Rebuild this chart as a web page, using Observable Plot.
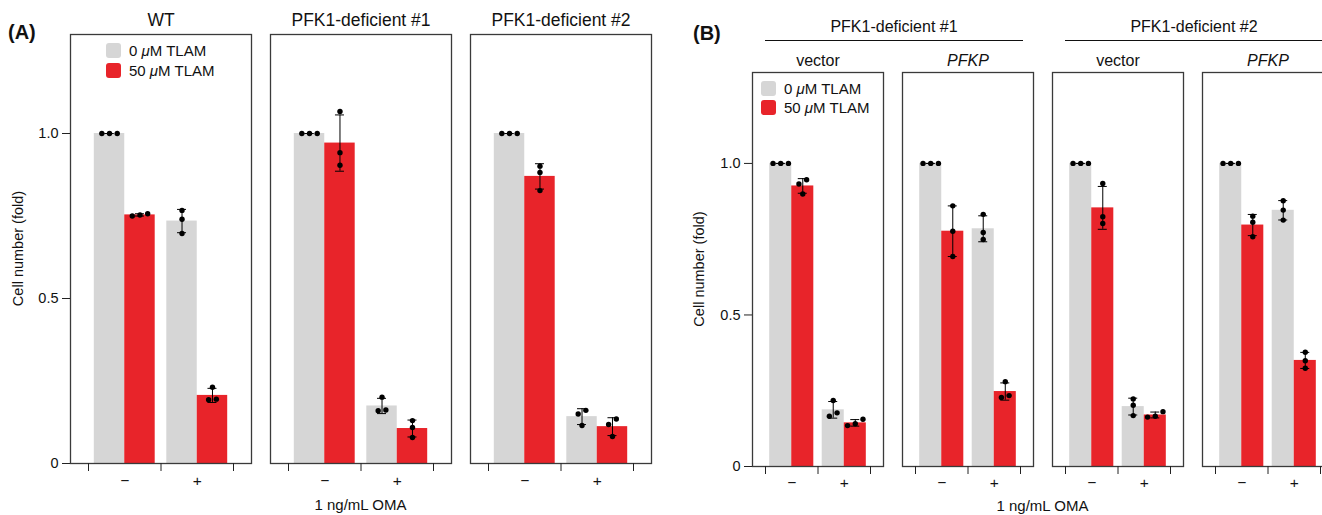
<!DOCTYPE html>
<html><head><meta charset="utf-8">
<script src="https://cdn.jsdelivr.net/npm/d3@7"></script>
<script src="https://cdn.jsdelivr.net/npm/@observablehq/plot@0.6"></script>
<style>
body{margin:0;background:#fff;font-family:"Liberation Sans",Arial,sans-serif;color:#111;}
#wrap{position:relative;width:1322px;height:515px;overflow:hidden;background:#fff}
.panel{position:absolute;top:0}
.panel svg{display:block;max-width:none !important}
.abs{position:absolute;white-space:nowrap;line-height:1}
.sw{position:absolute;width:15px;height:15px;border-radius:3px}
</style></head><body><div id="wrap"></div>
<script>
// ---------- data ----------
const omaLevels = ["−", "+"];
const tlamLabels = ["0 μM TLAM", "50 μM TLAM"];
const tlamColors = ["#d6d6d6", "#e8242a"];
const yTicks = [0, 0.5, 1.0];
const xTitle = "1 ng/mL OMA";
const yTitle = "Cell number (fold)";

const panelACells = ["WT", "PFK1-deficient #1", "PFK1-deficient #2"];
// replicate order per cell: [OMA− 0µM, OMA− 50µM, OMA+ 0µM, OMA+ 50µM]
const repsWT   = [[1,1,1],[0.750,0.753,0.757],[0.767,0.740,0.697],[0.231,0.193,0.195]];
const repsA1   = [[1,1,1],[1.067,0.942,0.904],[0.201,0.162,0.160],[0.130,0.109,0.079]];
const repsA2   = [[1,1,1],[0.901,0.882,0.827],[0.150,0.161,0.115],[0.118,0.135,0.082]];

const panelBGroups = ["PFK1-deficient #1", "PFK1-deficient #2"];
const panelBConstructs = ["vector", "PFKP"];
const repsB1vec  = [[1,1,1],[0.932,0.946,0.899],[0.218,0.166,0.177],[0.135,0.141,0.156]];
const repsB1pfkp = [[1,1,1],[0.860,0.776,0.693],[0.832,0.772,0.749],[0.280,0.228,0.234]];
const repsB2vec  = [[1,1,1],[0.934,0.824,0.802],[0.223,0.202,0.168],[0.163,0.166,0.181]];
const repsB2pfkp = [[1,1,1],[0.826,0.806,0.758],[0.877,0.846,0.813],[0.377,0.349,0.324]];

// ---------- helpers ----------
const FONT = '"Liberation Sans", Arial, sans-serif';
const wrap = document.getElementById("wrap");
function el(cls, css, html) {
  const d = document.createElement("div");
  d.className = cls; Object.assign(d.style, css); if (html != null) d.innerHTML = html;
  wrap.appendChild(d); return d;
}
const fmtMu = s => s.replace("μ", "<i>μ</i>");

function makePanel(cfg) {
  const {keys, repsList, titles, italic, left, width, height, mt, mb, ml, mr, fxPad, inset, titleSize, titleDy} = cfg;
  const W = width - ml - mr, n = keys.length;
  const step = W / (n - fxPad), bw = step * (1 - fxPad);
  const unitPx = (bw - 2 * inset) / 2;
  const yPx = (height - mt - mb) / 1.3;
  const barW = 0.42, capHalf = 4.5 / unitPx, spacing = 7.7 / unitPx;
  const bars = [], dots = [];
  keys.forEach((k, fi) => {
    repsList[fi].forEach((vals, c) => {
      const oma = c >> 1, tlam = c & 1;
      const x1 = oma + (tlam - 1) * barW, x2 = x1 + barW, xc = (x1 + x2) / 2;
      const mean = d3.mean(vals), sd = d3.deviation(vals);
      bars.push({key: k, x1, x2, xc, mean, lo: mean - sd, hi: mean + sd, tlam: tlamLabels[tlam]});
      // simple beeswarm: chain values that would overlap vertically
      const sorted = vals.slice().sort((a, b) => a - b);
      const clusters = [];
      sorted.forEach(v => {
        const last = clusters[clusters.length - 1];
        if (last && (v - last[last.length - 1]) * yPx < 6) last.push(v); else clusters.push([v]);
      });
      clusters.forEach(cl => cl.forEach((v, i) => dots.push({key: k, x: xc + (i - (cl.length - 1) / 2) * spacing, y: v})));
    });
  });
  const caps = bars.flatMap(b => [{...b, y: b.lo}, {...b, y: b.hi}]);
  const plot = Plot.plot({
    width, height, marginTop: mt, marginBottom: mb, marginLeft: ml, marginRight: mr,
    style: {fontFamily: FONT, fontSize: "14.5px", color: "#111", background: "transparent"},
    fx: {domain: keys, paddingInner: fxPad, paddingOuter: 0, axis: null},
    x: {domain: [-0.5, 1.5], insetLeft: inset, insetRight: inset},
    y: {domain: [0, 1.3]},
    color: {type: "ordinal", domain: tlamLabels, range: tlamColors},
    marks: [
      Plot.rect(bars, {fx: "key", x1: "x1", x2: "x2", y1: 0, y2: "mean", fill: "tlam"}),
      Plot.ruleX(bars, {fx: "key", x: "xc", y1: "lo", y2: "hi", stroke: "#000", strokeWidth: 1}),
      Plot.ruleY(caps, {fx: "key", y: "y", x1: d => d.xc - capHalf, x2: d => d.xc + capHalf, stroke: "#000", strokeWidth: 1}),
      Plot.dot(dots, {fx: "key", x: "x", y: "y", r: 2.7, fill: "#000", stroke: "none"}),
      Plot.frame({stroke: "#3a3a3a", strokeWidth: 1.3}),
      Plot.axisY({ticks: yTicks, tickFormat: d => d === 0 ? "0" : d.toFixed(1), tickSize: 8, tickPadding: 4, label: null, stroke: "#222"}),
      Plot.axisX([-0.5, 0.5, 1.5], {tickSize: 8, tickFormat: () => "", label: null, stroke: "#222"}),
      Plot.axisX([0, 1], {tickSize: 0, tickPadding: cfg.xPad, tickFormat: i => omaLevels[i], label: null, fontSize: 15.5}),
      Plot.text(keys.filter((k, i) => !italic[i]), {fx: d => d, text: d => titles[keys.indexOf(d)], frameAnchor: "top", lineAnchor: "middle", dy: titleDy, fontSize: titleSize, fill: "#111"}),
      Plot.text(keys.filter((k, i) => italic[i]), {fx: d => d, text: d => titles[keys.indexOf(d)], frameAnchor: "top", lineAnchor: "middle", dy: titleDy, fontSize: titleSize, fontStyle: "italic", fill: "#111"})
    ]
  });
  const holder = el("panel", {left: left + "px", width: width + "px", height: height + "px"});
  holder.appendChild(plot);
  d3.select(plot).append("text")
    .attr("transform", `translate(${cfg.yLabelX},${(mt + height - mb) / 2}) rotate(-90)`)
    .attr("text-anchor", "middle").attr("dominant-baseline", "middle")
    .attr("font-family", FONT).attr("font-size", 14.5).attr("fill", "#111").text(yTitle);
  const fx = plot.scale("fx");
  const x0 = left + fx.apply(keys[0]), x1 = left + fx.apply(keys[n - 1]) + fx.bandwidth;
  el("abs", {left: x0 + "px", width: (x1 - x0) + "px", top: cfg.xTitleY + "px", textAlign: "center", fontSize: "15px"}, xTitle);
  return {plot, fx, bw: fx.bandwidth};
}

// ---------- Panel A ----------
const A = makePanel({
  keys: panelACells, repsList: [repsWT, repsA1, repsA2], titles: panelACells, italic: [false, false, false],
  left: 0, width: 660, height: 515, mt: 34, mb: 52, ml: 70, mr: 9, fxPad: 0.095, inset: 18,
  titleSize: 17.5, titleDy: -14, xPad: 11, yLabelX: 19, xTitleY: 497
});
// ---------- Panel B ----------
const bKeys = [], bTitles = [], bItalic = [];
panelBGroups.forEach(g => panelBConstructs.forEach(c => { bKeys.push(g + " | " + c); bTitles.push(c); bItalic.push(c === "PFKP"); }));
const B = makePanel({
  keys: bKeys, repsList: [repsB1vec, repsB1pfkp, repsB2vec, repsB2pfkp], titles: bTitles, italic: bItalic,
  left: 680, width: 662, height: 515, mt: 72, mb: 49, ml: 72, mr: 9, fxPad: 0.1267, inset: 13,
  titleSize: 16, titleDy: -12, xPad: 10, yLabelX: 20, xTitleY: 498
});
// group headers for panel B
panelBGroups.forEach((g, gi) => {
  const a = 680 + B.fx.apply(bKeys[gi * 2]) + 13;
  const b = 680 + B.fx.apply(bKeys[gi * 2 + 1]) + B.bw - 10;
  el("abs", {left: a + "px", width: (b - a) + "px", top: "19px", textAlign: "center", fontSize: "16px"}, g);
  el("abs", {left: a + "px", width: (b - a) + "px", top: "40px", height: "0", borderTop: "1.4px solid #111"});
});

// legends
function legend(x, y, step) {
  tlamLabels.forEach((t, i) => {
    el("sw", {left: x + "px", top: (y + i * step) + "px", background: tlamColors[i]});
    el("abs", {left: (x + 23) + "px", top: (y + i * step) + "px", fontSize: "15px"}, fmtMu(t));
  });
}
legend(106, 43, 19.5);
legend(761, 81, 18.5);

// panel letters
el("abs", {left: "8px", top: "22px", fontSize: "20px", fontWeight: "bold"}, "(A)");
el("abs", {left: "693px", top: "23px", fontSize: "20px", fontWeight: "bold"}, "(B)");
</script></body></html>
